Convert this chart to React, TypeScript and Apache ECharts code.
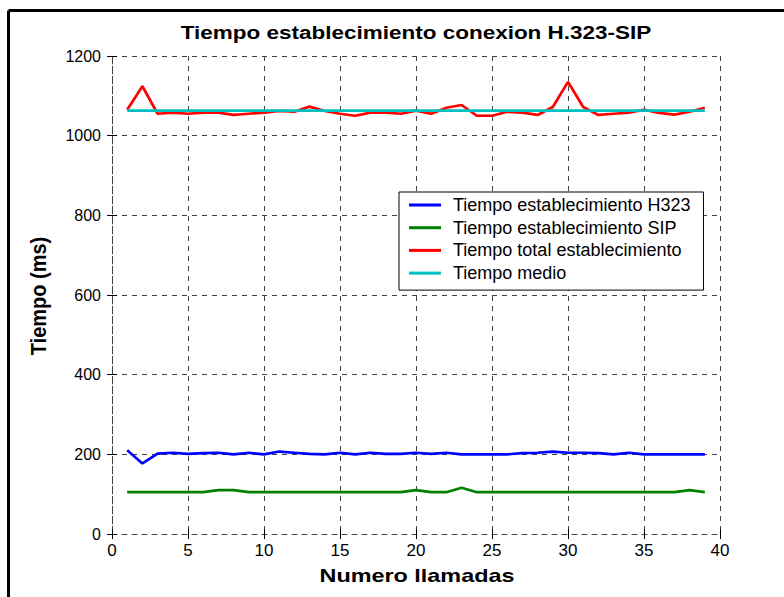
import React, { useEffect, useRef } from "react";
import * as echarts from "echarts";

const calls = Array.from({ length: 39 }, (_, i) => i + 1);
const h323 = [210, 177, 202, 204, 201, 203, 204, 200, 204, 200, 207, 204, 201, 200, 204, 200, 204, 201, 201, 204, 201, 204, 200, 200, 200, 200, 203, 204, 207, 204, 204, 203, 200, 204, 200, 200, 200, 200, 200];
const sip = [105, 105, 105, 105, 105, 105, 110, 110, 105, 105, 105, 105, 105, 105, 105, 105, 105, 105, 105, 110, 105, 105, 116, 105, 105, 105, 105, 105, 105, 105, 105, 105, 105, 105, 105, 105, 105, 110, 105];
const total = [1065, 1124, 1055, 1058, 1055, 1058, 1058, 1052, 1055, 1058, 1062, 1060, 1073, 1062, 1055, 1050, 1058, 1058, 1055, 1063, 1055, 1070, 1077, 1050, 1050, 1060, 1058, 1052, 1072, 1135, 1072, 1052, 1055, 1058, 1065, 1057, 1053, 1060, 1070];
const meanValue = 1063;
const meanRange = [1, 39];
const names = [
  "Tiempo establecimiento H323",
  "Tiempo establecimiento SIP",
  "Tiempo total establecimiento",
  "Tiempo medio",
];
const titleText = "Tiempo establecimiento conexion H.323-SIP";
const xName = "Numero llamadas";
const yName = "Tiempo (ms)";
const xTicks = { min: 0, max: 40, interval: 5 };
const yTicks = { min: 0, max: 1200, interval: 200 };

const FONT = "Liberation Sans, Arial, sans-serif";

export default function App() {
  const ref = useRef<HTMLDivElement>(null);
  useEffect(() => {
    if (!ref.current) return;
    const chart = echarts.init(ref.current, undefined, { renderer: "svg" });
    const pair = (arr: number[]) => calls.map((c, i) => [c, arr[i]]);
    const gridStyle = { show: true, lineStyle: { type: [5, 5] as any, color: "#444", width: 1 } };
    const tick = { show: true, inside: true, length: 5, lineStyle: { color: "#000" } };
    chart.setOption({
      animation: false,
      backgroundColor: "#fff",
      textStyle: { fontFamily: FONT },
      grid: { left: 112, right: 64, top: 56, bottom: 63 },
      legend: {
        data: names,
        orient: "vertical",
        left: 399,
        top: 192,
        icon: "rect",
        itemWidth: 32,
        itemHeight: 3,
        itemGap: 4.7,
        padding: [4, 13, 8, 10],
        backgroundColor: "#fff",
        borderColor: "#000",
        borderWidth: 1,
        borderRadius: 0,
        textStyle: { fontSize: 18, color: "#000", fontFamily: FONT, lineHeight: 18, padding: [0, 0, 0, 7] },
      },
      xAxis: [
        {
          type: "value",
          ...xTicks,
          axisLine: { show: true, onZero: false, lineStyle: { color: "#444", type: [5, 5] as any } },
          axisTick: tick,
          axisLabel: { fontSize: 17, color: "#000", margin: 8, fontFamily: FONT },
          splitLine: gridStyle,
        },
        {
          type: "value",
          position: "top",
          ...xTicks,
          axisLine: { show: false },
          axisTick: tick,
          axisLabel: { show: false },
          splitLine: { show: false },
        },
      ],
      yAxis: [
        {
          type: "value",
          ...yTicks,
          axisLine: { show: true, lineStyle: { color: "#444", type: [5, 5] as any } },
          axisTick: tick,
          axisLabel: { fontSize: 16, color: "#000", margin: 11, fontFamily: FONT, formatter: (v: number) => String(v) },
          splitLine: gridStyle,
        },
        {
          type: "value",
          position: "right",
          ...yTicks,
          axisLine: { show: false },
          axisTick: tick,
          axisLabel: { show: false },
          splitLine: { show: false },
        },
      ],
      graphic: [
        { type: "line", shape: { x1: 8.5, y1: 10.5, x2: 784, y2: 10.5 }, style: { stroke: "#000", lineWidth: 3 } },
        { type: "line", shape: { x1: 8.5, y1: 10.5, x2: 8.5, y2: 597 }, style: { stroke: "#000", lineWidth: 3 } },
        {
          type: "text",
          x: 416,
          y: 33,
          scaleX: 1.25,
          style: { text: titleText, font: `bold 18px ${FONT}`, fill: "#000", textAlign: "center", textVerticalAlign: "middle" },
        },
        {
          type: "text",
          x: 417,
          y: 576,
          scaleX: 1.3,
          style: { text: xName, font: `bold 18px ${FONT}`, fill: "#000", textAlign: "center", textVerticalAlign: "middle" },
        },
        {
          type: "text",
          x: 38,
          y: 296,
          rotation: Math.PI / 2,
          scaleY: 1.1,
          style: { text: yName, font: `bold 20px ${FONT}`, fill: "#000", textAlign: "center", textVerticalAlign: "middle" },
        },
      ],
      series: [
        { name: names[0], type: "line", data: pair(h323), showSymbol: false, color: "#0000ff", lineStyle: { width: 2.7, color: "#0000ff" } },
        { name: names[1], type: "line", data: pair(sip), showSymbol: false, color: "#008000", lineStyle: { width: 2.7, color: "#008000" } },
        { name: names[2], type: "line", data: pair(total), showSymbol: false, color: "#ff0000", lineStyle: { width: 2.7, color: "#ff0000" } },
        {
          name: names[3],
          type: "line",
          data: meanRange.map((c) => [c, meanValue]),
          showSymbol: false,
          color: "#00bfbf",
          lineStyle: { width: 2.7, color: "#00bfbf" },
        },
      ],
    });
    return () => chart.dispose();
  }, []);
  return <div ref={ref} style={{ position: "fixed", left: 0, top: 0, width: 784, height: 597 }} />;
}
